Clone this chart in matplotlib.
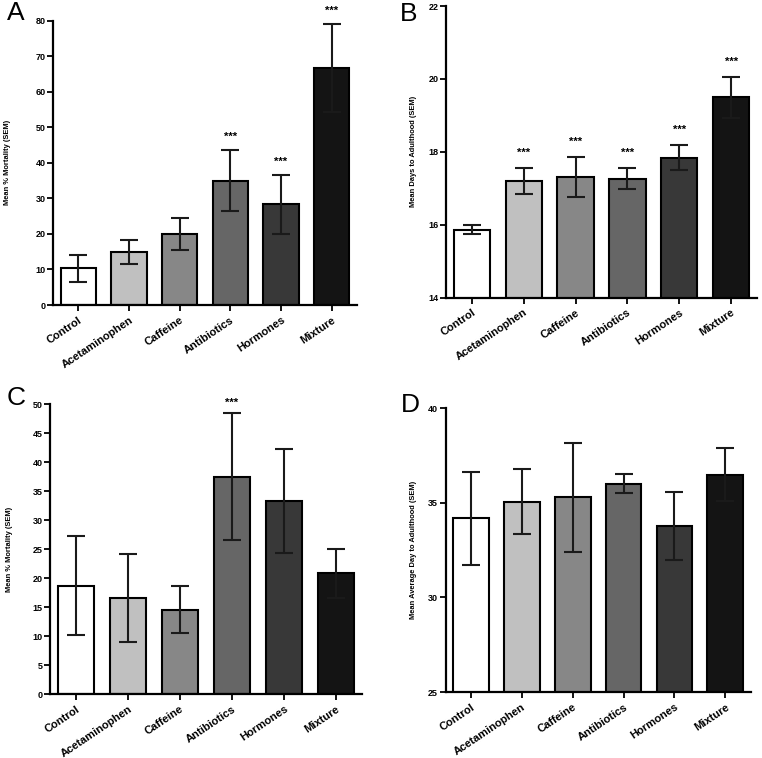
import matplotlib
matplotlib.use('Agg')
import matplotlib.pyplot as plt
import numpy as np

plt.rcParams['font.family'] = ['Liberation Sans', 'DejaVu Sans']

groups = ['Control', 'Acetaminophen', 'Caffeine', 'Antibiotics', 'Hormones', 'Mixture']
bar_colors = ['#ffffff', '#c0c0c0', '#878787', '#666666', '#383838', '#141414']

# Panel A: mortality
mort_a = [10.3, 15.0, 20.0, 35.0, 28.3, 66.7]
sem_a = [3.9, 3.4, 4.5, 8.5, 8.3, 12.3]
sig_a = [False, False, False, True, True, True]

# Panel B: days to adulthood
days_b = [15.87, 17.2, 17.31, 17.26, 17.84, 19.5]
sem_b = [0.13, 0.36, 0.54, 0.29, 0.35, 0.56]
sig_b = [False, True, True, True, True, True]

# Panel C: mortality
mort_c = [18.7, 16.6, 14.56, 37.5, 33.3, 20.8]
sem_c = [8.6, 7.6, 4.0, 11.0, 9.0, 4.2]
sig_c = [False, False, False, True, False, False]

# Panel D: average day to adulthood
days_d = [34.18, 35.07, 35.29, 36.0, 33.76, 36.49]
sem_d = [2.45, 1.7, 2.9, 0.5, 1.8, 1.4]
sig_d = [False] * 6

W, H = 762, 758
fig = plt.figure(figsize=(W / 100, H / 100), dpi=100)


def px_axes(left, right, top, bottom):
    return fig.add_axes([left / W, 1 - bottom / H, (right - left) / W, (bottom - top) / H])


def panel(ax, vals, sems, sig, ylim, yticks, ylabel, letter, letter_xy, label_x, star_off):
    x = np.arange(len(groups))
    ax.bar(x, vals, width=0.7, color=bar_colors, edgecolor='black', linewidth=1.5, zorder=2)
    ax.errorbar(x, vals, yerr=sems, fmt='none', ecolor='#1a1a1a', elinewidth=1.5,
                capsize=6.8, capthick=1.5, zorder=3)
    for xi, v, s, flag in zip(x, vals, sems, sig):
        if flag:
            ax.text(xi, v + s + star_off, '***', ha='center', va='center',
                    fontsize=8, fontweight='bold', clip_on=False)
    ax.set_xlim(-0.5, 5.5)
    ax.set_ylim(*ylim)
    ax.set_yticks(yticks)
    ax.set_xticks(x)
    ax.set_xticklabels(groups, rotation=34, ha='right', rotation_mode='anchor',
                       fontsize=8, fontweight='bold')
    for lab in ax.get_yticklabels():
        lab.set_fontsize(6.5)
        lab.set_fontweight('heavy')
    ax.set_ylabel(ylabel, fontsize=5.4, fontweight='bold')
    pos = ax.get_position()
    ax.yaxis.set_label_coords((label_x / W - pos.x0) / pos.width, 0.5)
    for side in ['top', 'right']:
        ax.spines[side].set_visible(False)
    for side in ['left', 'bottom']:
        ax.spines[side].set_linewidth(1.6)
    ax.tick_params(axis='both', direction='out', length=4, width=1.3, pad=1.5)
    ax.tick_params(axis='x', pad=3)
    fig.text(letter_xy[0] / W, 1 - letter_xy[1] / H, letter, fontsize=19, ha='left', va='center')


ax_a = px_axes(53, 357, 20.7, 305)
panel(ax_a, mort_a, sem_a, sig_a, (0, 80), range(0, 81, 10), 'Mean % Mortality (SEM)',
      'A', (7, 13), 11, 3.8)

ax_b = px_axes(446, 757, 6, 297.7)
panel(ax_b, days_b, sem_b, sig_b, (14, 22), range(14, 23, 2), 'Mean Days to Adulthood (SEM)',
      'B', (400, 14), 417, 0.42)

ax_c = px_axes(50, 362, 404.3, 694)
panel(ax_c, mort_c, sem_c, sig_c, (0, 50), range(0, 51, 5), 'Mean % Mortality (SEM)',
      'C', (7, 398), 13, 1.8)

ax_d = px_axes(445.7, 750.7, 408.3, 692)
panel(ax_d, days_d, sem_d, sig_d, (25, 40), range(25, 41, 5), 'Mean Average Day to Adulthood (SEM)',
      'D', (401, 405), 417, 0.5)

fig.savefig('out.png', dpi=100)
